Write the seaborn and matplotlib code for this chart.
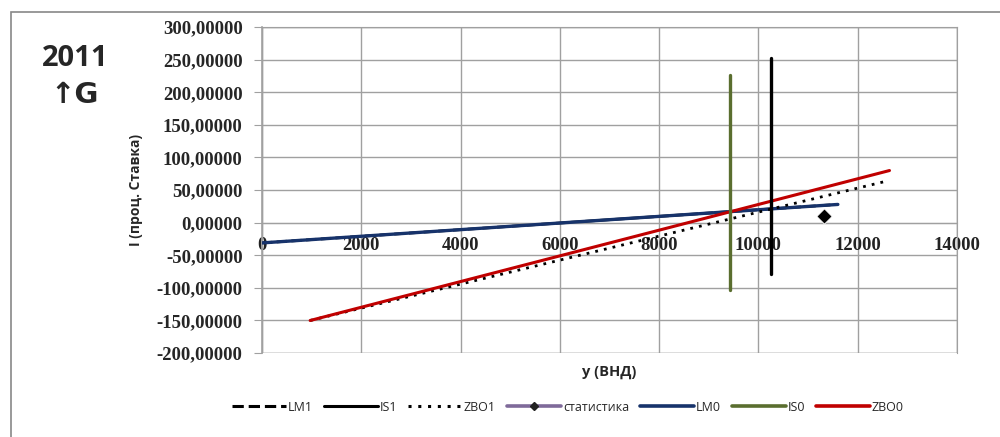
"""
IS-LM-ZBO chart for 2011 (G up), rebuilt with seaborn
"""

import pandas as pd
import matplotlib.pyplot as plt
import seaborn as sns
from matplotlib.lines import Line2D
from matplotlib.patches import Rectangle
from matplotlib.ticker import FuncFormatter

# Series
lm0_x = [0, 11600]
lm0_y = [-31, 28]
lm1_x = [0, 11600]
lm1_y = [-31, 28]
is0_x = [9420, 9420]
is0_y = [-103, 227]
is1_x = [10260, 10260]
is1_y = [-78, 252]
zbo0_x = [970, 12640]
zbo0_y = [-150, 80]
zbo1_x = [970, 12540]
zbo1_y = [-150, 63]
stat_x = [11330]
stat_y = [11]

x_ticks = [0, 2000, 4000, 6000, 8000, 10000, 12000, 14000]
y_ticks = [-200, -150, -100, -50, 0, 50, 100, 150, 200, 250, 300]

sns.set_style("white")

fig = plt.figure(figsize=(10, 4.37), dpi=100)
ax = fig.add_axes([0.262, 0.192, 0.695, 0.746])

grid_col = "#a0a0a0"
line_kw = dict(ax=ax, estimator=None, sort=False)

# Series drawn through seaborn
sns.lineplot(x=lm1_x, y=lm1_y, color="black", lw=2, ls="--", zorder=2, **line_kw)
sns.lineplot(x=lm0_x, y=lm0_y, color="#17336b", lw=2.4, zorder=3, **line_kw)
sns.lineplot(x=zbo1_x, y=zbo1_y, color="black", lw=2, ls=(0, (1, 2.2)), zorder=3, **line_kw)
sns.lineplot(x=zbo0_x, y=zbo0_y, color="#c00000", lw=2.2, zorder=4, **line_kw)
sns.lineplot(x=is0_x, y=is0_y, color="#5a6e2f", lw=2.4, zorder=5, **line_kw)
sns.lineplot(x=is1_x, y=is1_y, color="black", lw=2.4, zorder=5, **line_kw)
sns.scatterplot(x=stat_x, y=stat_y, ax=ax, marker="D", s=60, color="black", zorder=6)

ax.set_xlim(0, 14000)
ax.set_ylim(-200, 300)
ax.set_xticks(x_ticks)
ax.set_yticks(y_ticks)
ax.grid(True, color=grid_col, lw=1.0)
ax.set_axisbelow(True)

for side in ["top", "right", "left"]:
    ax.spines[side].set_color(grid_col)
ax.spines["bottom"].set_position(("data", 0))
ax.spines["bottom"].set_color(grid_col)
ax.spines["left"].set_linewidth(1.2)

# frame around plot area (bottom edge, because spine sits at y=0)
ax.add_patch(Rectangle((0, 0), 1, 1, transform=ax.transAxes, fill=False,
                       ec=grid_col, lw=1.0, zorder=1))

tick_font = dict(family="Liberation Serif", weight="bold", size=13.5)
ax.yaxis.set_major_formatter(FuncFormatter(lambda v, p: f"{v:.5f}".replace(".", ",")))
ax.tick_params(axis="y", length=6, color=grid_col, pad=8, left=True)
ax.tick_params(axis="x", length=0, pad=10)
for lab in ax.get_yticklabels():
    lab.set(**tick_font)
for lab in ax.get_xticklabels():
    lab.set(**tick_font)
    lab.set_color("#222222")

ax.set_xlabel("y (ВНД)", fontsize=10.5, fontweight="bold", family="Open Sans")
ax.xaxis.set_label_coords(0.5, -0.035)
ax.set_ylabel("I (проц. Ставка)", fontsize=10, fontweight="bold", family="Open Sans", labelpad=10)

# title block on the left
fig.text(0.075, 0.865, "2011", ha="center", va="center", fontsize=21, fontweight="bold",
         family=["Open Sans", "DejaVu Sans"])
fig.text(0.075, 0.782, "↑G", ha="center", va="center", fontsize=21, fontweight="bold",
         family=["DejaVu Sans"])

# legend
handles = [
    Line2D([], [], color="black", lw=2.2, ls="--"),
    Line2D([], [], color="black", lw=2.2),
    Line2D([], [], color="black", lw=2.2, ls=(0, (1, 2.2))),
    Line2D([], [], color="#7f6a9a", lw=2.6, marker="D", ms=4, mfc="#222222", mec="#222222"),
    Line2D([], [], color="#17336b", lw=2.6),
    Line2D([], [], color="#5a6e2f", lw=2.6),
    Line2D([], [], color="#c00000", lw=2.6),
]
labels = ["LM1", "IS1", "ZBO1", "статистика", "LM0", "IS0", "ZBO0"]
fig.legend(handles, labels, loc="center", bbox_to_anchor=(0.568, 0.068), ncol=7,
           frameon=False, handlelength=4.3, handletextpad=0.15,
           columnspacing=0.9, prop={"family": "Open Sans", "size": 9})

# outer chart border
fig.patches.append(Rectangle((0.011, -0.05), 1.2, 1.0225, transform=fig.transFigure,
                             fill=False, ec="#888888", lw=1.2))

plt.savefig("out.png", dpi=100)
